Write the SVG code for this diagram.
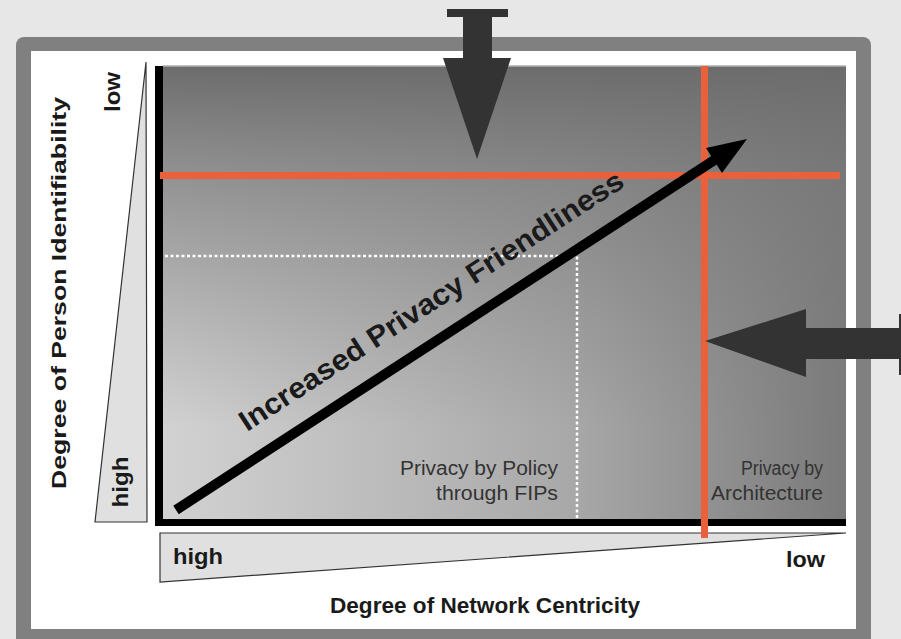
<svg xmlns="http://www.w3.org/2000/svg" width="901" height="639" viewBox="0 0 901 639">
<defs>
<linearGradient id="gh" x1="0" y1="0" x2="1" y2="0">
<stop offset="0" stop-color="#d2d2d2"/>
<stop offset="0.6" stop-color="#a8a8a8"/>
<stop offset="1" stop-color="#7a7a7a"/>
</linearGradient>
<linearGradient id="gv" x1="0" y1="0" x2="0" y2="1">
<stop offset="0" stop-color="#6c6c6c" stop-opacity="1"/>
<stop offset="0.25" stop-color="#787878" stop-opacity="0.7"/>
<stop offset="0.8" stop-color="#808080" stop-opacity="0"/>
</linearGradient>
<style>
.lbl{font-family:"Liberation Sans",Arial,sans-serif;font-weight:bold;fill:#1a1a1a}
.sm{font-family:"Liberation Sans",Arial,sans-serif;fill:#333;font-size:19.5px}
.red{stroke:#e8603c;stroke-width:7;fill:none}
.dot{stroke:#ffffff;stroke-width:2.5;stroke-dasharray:3 2.5;fill:none}
.tri{fill:#e0e0e0;stroke:#333;stroke-width:1.2}
.big{fill:#333333}
</style>
</defs>
<rect x="0" y="0" width="901" height="639" fill="#e7e7e7"/>
<g id="frame">
<rect x="16" y="37" width="855" height="630" rx="8" fill="#808080"/>
<rect x="31" y="51" width="825" height="578" fill="#ffffff"/>
</g>
<g id="chart">
<rect x="163" y="66" width="683" height="453" fill="url(#gh)"/>
<rect x="163" y="66" width="683" height="453" fill="url(#gv)"/>
<line x1="163" y1="66" x2="846" y2="66" stroke="#b0b0b0" stroke-width="1.5"/>
<rect x="155" y="66" width="8" height="460" fill="#000"/>
<rect x="155" y="519" width="691" height="7" fill="#000"/>
</g>
<g id="y-axis">
<polygon class="tri" points="146,62 147,522 95,522"/>
<text class="lbl" font-size="22" transform="translate(120,92) rotate(-90)" text-anchor="middle" textLength="40" lengthAdjust="spacingAndGlyphs">low</text>
<text class="lbl" font-size="22" transform="translate(128,482) rotate(-90)" text-anchor="middle" textLength="51" lengthAdjust="spacingAndGlyphs">high</text>
<text class="lbl" font-size="21" transform="translate(66,293) rotate(-90)" text-anchor="middle" textLength="392" lengthAdjust="spacingAndGlyphs">Degree of Person Identifiability</text>
</g>
<g id="x-axis">
<polygon class="tri" points="160,533 846,533 160,582"/>
<text class="lbl" x="173" y="564" font-size="22" textLength="50" lengthAdjust="spacingAndGlyphs">high</text>
<text class="lbl" x="786" y="567" font-size="22" textLength="39" lengthAdjust="spacingAndGlyphs">low</text>
<text class="lbl" x="330" y="613" font-size="22" textLength="310" lengthAdjust="spacingAndGlyphs">Degree of Network Centricity</text>
</g>
<g id="connectors">
<polyline class="dot" points="165,256 577,256 577,518"/>
<line class="red" x1="160" y1="175.5" x2="840" y2="175.5"/>
<line class="red" x1="704.5" y1="66" x2="704.5" y2="538"/>
<line x1="176" y1="510" x2="716" y2="159" stroke="#000" stroke-width="10"/>
<polygon points="747,139 706,148 722,173" fill="#000"/>
</g>
<g id="diag-label">
<text class="lbl" font-size="29" transform="translate(247,432) rotate(-33)" textLength="452" lengthAdjust="spacingAndGlyphs">Increased Privacy Friendliness</text>
</g>
<g id="policy">
<text class="sm" x="558" y="475" text-anchor="end" textLength="158" lengthAdjust="spacingAndGlyphs">Privacy by Policy</text>
<text class="sm" x="558" y="500" text-anchor="end" textLength="122" lengthAdjust="spacingAndGlyphs">through FIPs</text>
</g>
<g id="architecture">
<text class="sm" x="823" y="475" text-anchor="end" textLength="82" lengthAdjust="spacingAndGlyphs">Privacy by</text>
<text class="sm" x="823" y="500" text-anchor="end" textLength="112" lengthAdjust="spacingAndGlyphs">Architecture</text>
</g>
<g id="top-arrow">
<path class="big" d="M447,9 H508 V17 H492 V58 H511 L477,159 L443,58 H463 V17 H447 Z"/>
</g>
<g id="right-arrow">
<path class="big" d="M705,341 L806,309 V328 H899 V314 H910 V375 H899 V359 H806 V377 Z"/>
</g>
</svg>
